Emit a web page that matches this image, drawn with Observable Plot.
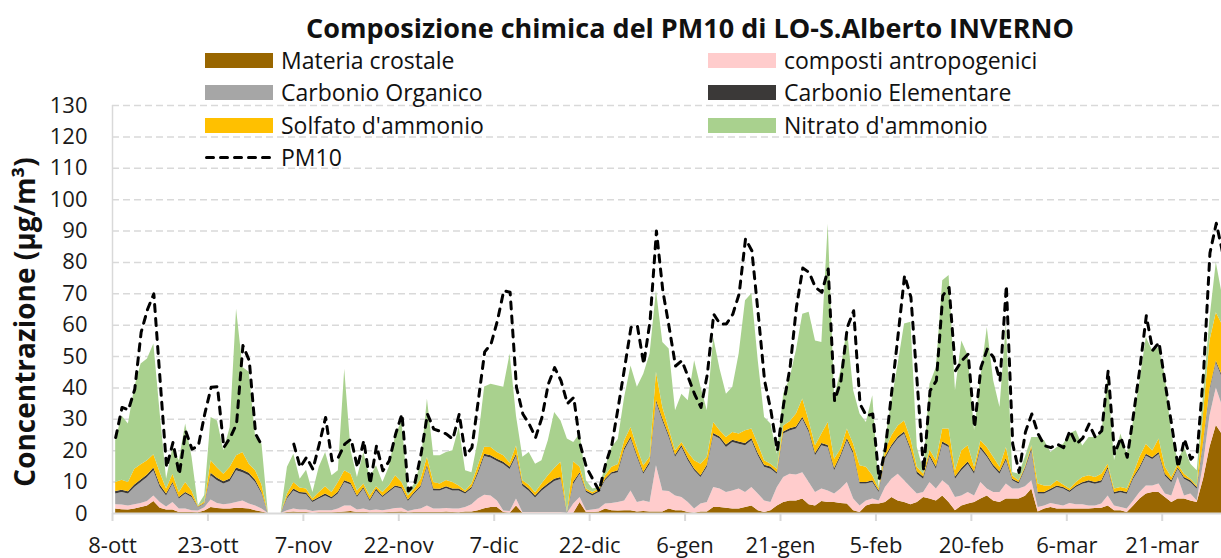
<!DOCTYPE html>
<html><head><meta charset="utf-8">
<script src="https://cdn.jsdelivr.net/npm/d3@7"></script>
<script src="https://cdn.jsdelivr.net/npm/@observablehq/plot@0.6"></script>
<style>
body{margin:0;background:#fff;font-family:"Open Sans",Lato,sans-serif;color:#111;}
#wrap{position:relative;width:1221px;height:558px;overflow:hidden;}
#chart{position:absolute;left:0;top:0;}
#title{position:absolute;left:306px;top:11px;font-weight:bold;font-size:27px;white-space:nowrap;line-height:34px;}
.lg{position:absolute;height:30px;display:flex;align-items:center;white-space:nowrap;font-size:23px;}
.sw{width:68px;height:15px;margin-right:8px;flex:none;}
#ytitle{position:absolute;left:24px;top:322px;transform:translate(-50%,-50%) rotate(-90deg);font-weight:bold;font-size:28px;white-space:nowrap;}
</style></head><body>
<div id="wrap">
<div id="chart"></div>
<div id="title">Composizione chimica del PM10 di LO-S.Alberto INVERNO</div>
<div id="legend"></div>
<div id="ytitle">Concentrazione (µg/m³)</div>
</div>
<script>
const seriesNames = ["Materia crostale","composti antropogenici","Carbonio Organico","Carbonio Elementare","Solfato d'ammonio","Nitrato d'ammonio"];
const seriesColors = ["#996600","#ffcccc","#a6a6a6","#3b3938","#ffc000","#a9d18e"];
const lineName = "PM10";
const tickLabels = ["8-ott","23-ott","7-nov","22-nov","7-dic","22-dic","6-gen","21-gen","5-feb","20-feb","6-mar","21-mar"];
const yTicks = [0,10,20,30,40,50,60,70,80,90,100,110,120,130];

const crostale = [1.4,1.2,1.1,1.4,1.9,2.4,3.8,1.7,1.1,1.1,
0.3,0.3,0.3,0.2,0.8,1.9,1.6,1.4,1.4,1.7,
1.6,1.4,0.9,0.5,0,0,0,0.3,0.5,0.3,
0.3,0.1,0.2,0.2,0.2,0.3,0.5,0.6,0.3,0.4,
0.2,0.2,0.2,0.3,0.4,0.5,0.2,0.3,0.3,0.3,
0.3,0.3,0.5,0.3,0.2,0.5,0.5,0.9,1.5,1.9,
1.9,0.3,0.1,2.4,0.1,0.1,0.1,0.1,0.1,0.1,
0.1,0,0.1,3.5,0.3,0.3,0.5,1.4,0.9,0.8,
0.9,0.9,0.5,0.6,0.5,0.5,0.5,1.4,0.9,0.9,
0.3,0.1,0.5,0.5,1.9,1.9,1.7,1.4,1.4,1.9,
2.4,0.9,0.3,0.9,2.4,3.5,4.0,4.0,4.6,2.8,
2.4,3.8,3.5,3.5,3.2,3.0,0.9,0.3,2.4,3.0,
3.0,3.5,5.1,4.0,3.5,2.8,3.5,5.1,4.6,4.0,
5.6,3.5,0.9,2.4,3.0,3.5,4.6,5.6,4.0,3.5,
4.6,4.6,4.6,5.5,7.8,0.5,1.4,1.9,1.4,1.4,
1.4,1.4,1.4,1.4,1.6,1.7,2.4,0.9,0.9,0.3,
2.4,4.6,6.2,6.7,6.7,5.1,3.5,4.6,4.6,4.0,
3.5,11,21,28,25];
const antropogenici = [1.4,1.5,1.3,1.4,1.3,1.4,1.8,1.8,1.0,2.4,
1.1,1.1,0.6,0.6,1.0,2.4,1.6,1.4,1.6,1.8,
2.4,1.6,1.5,0.9,0,0,0,0.6,0.9,0.8,
0.8,0.5,0.7,0.7,0.7,1.1,1.9,1.8,0.8,1.0,
0.7,0.9,0.7,0.9,1.2,1.2,0.4,0.8,1.1,2.1,
1.1,1.1,1.1,1.1,1.2,1.4,2.3,3.7,4.3,3.7,
2.1,0.5,0.5,2.2,0.2,0.2,0.2,0.2,0.2,0.2,
0.2,0,2.9,1.6,0.6,0.8,0.9,1.6,2.3,2.7,
3.1,6.3,3.0,3.4,3.0,14.7,6.7,5.6,4.7,4.2,
3.2,1.3,2.5,3.0,6.4,5.9,5.0,5.8,6.4,4.8,
5.9,5.3,3.7,2.6,5.9,8.0,8.5,8.3,8.4,7.1,
4.3,4.0,3.7,2.7,4.6,6.9,3.7,2.1,1.6,1.6,
1.0,4.8,5.8,8.5,6.9,5.5,2.7,1.6,5.3,3.8,
4.8,5.3,4.2,3.2,3.7,2.1,5.3,2.2,2.7,3.2,
4.8,3.2,3.2,3.0,2.6,1.4,1.0,1.3,1.4,1.0,
1.8,1.4,1.4,1.0,0.8,1.3,3.2,1.5,1.0,1.1,
1.6,2.1,2.6,2.1,2.7,1.1,2.1,6.9,1.0,2.2,
0.5,5,10,12,9];
const organico = [3.4,4.0,3.8,5.5,6.7,7.7,8.0,4.8,3.5,5.9,
3.2,4.8,4.2,1.0,1.2,7.7,7.2,6.6,7.2,10.1,
9.0,9.0,7.5,4.8,0,0,0,3.7,5.8,5.1,
4.9,2.9,3.7,4.7,3.7,4.8,7.5,6.7,4.0,6.4,
2.9,6.1,4.2,5.5,6.7,6.1,3.2,5.1,6.9,12.3,
5.8,5.8,6.4,5.8,5.8,4.3,5.0,7.9,12.4,12.1,
12.6,14.8,13.4,13.6,8.4,6.8,4.6,6.8,8.4,9.9,
10.5,0.1,6.3,7.4,5.8,4.5,5.3,7.4,9.3,9.5,
16.0,16.5,14.4,8.5,12.2,20.2,22.3,17.2,12.3,15.9,
13.3,12.2,8.5,11.2,16.5,15.9,14.3,15.4,14.3,14.9,
14.9,12.2,10.7,10.6,4.2,13.8,13.8,14.6,17.0,15.9,
11.7,13.8,13.8,7.4,10.1,13.3,14.3,7.0,5.4,5.3,
2.7,9.0,10.1,11.2,14.9,11.7,6.3,4.2,8.0,6.3,
11.7,12.2,5.8,8.0,9.0,6.9,10.6,10.1,8.0,5.8,
7.4,2.6,1.6,5.5,9.6,4.3,3.8,4.0,5.5,5.4,
3.5,5.5,6.5,7.4,6.9,6.8,8.5,3.7,4.7,4.7,
6.9,7.4,9.5,8.4,9.4,5.7,4.2,2.6,5.3,3.6,
3.7,6,8,8,9];
const elementare = [0.8,0.7,0.7,0.8,0.8,0.8,0.9,0.8,0.6,0.5,
0.5,0.5,0.5,0.2,0.2,0.8,0.8,0.7,0.8,0.9,
0.8,0.8,0.7,0.5,0,0,0,0.5,0.6,0.5,
0.5,0.5,0.5,0.6,0.5,0.6,0.5,0.5,0.5,0.5,
0.5,0.6,0.4,0.5,0.5,0.5,0.5,0.5,0.5,0.7,
0.6,0.5,0.5,0.6,0.6,0.5,0.5,0.7,0.7,0.7,
0.7,0.7,0.7,0.7,0.7,0.7,0.7,0.7,0.7,0.7,
0.7,0.1,0.7,0.5,0.5,0.5,0.5,0.5,0.5,0.6,
0.7,0.7,0.7,0.6,0.7,0.7,0.7,0.7,0.7,0.7,
0.7,0.6,0.5,0.7,0.7,0.7,0.8,0.7,0.7,0.7,
0.7,0.7,0.7,0.7,0.5,0.7,0.7,0.7,0.7,0.7,
0.7,0.7,0.7,0.7,0.7,0.7,0.7,0.5,0.5,0.5,
0.5,0.7,0.7,0.7,0.7,0.7,0.7,0.7,0.7,0.7,
0.7,0.7,0.7,0.7,0.7,0.7,0.7,0.7,0.7,0.7,
0.7,0.5,0.5,0.5,0.7,0.5,0.5,0.5,0.5,0.5,
0.5,0.5,0.5,0.6,0.6,0.6,0.6,0.6,0.6,0.6,
0.6,0.6,0.6,0.6,0.6,0.6,0.6,0.5,0.6,0.6,
0.6,0.6,0.6,0.6,0.6];
const solfato = [2.9,3.2,3.0,5.0,4.8,4.5,4.2,3.9,1.6,2.6,
1.6,3.2,1.6,0.2,0.5,4.0,3.3,2.4,3.7,3.9,
5.6,2.9,3.0,2.4,0,0,0,1.1,2.1,1.4,
1.3,0.6,1.6,2.3,1.6,3.1,3.2,2.9,1.6,1.1,
1.3,0.7,1.2,1.6,3.2,1.6,1.3,1.1,2.1,2.5,
2.1,1.7,2.0,2.1,1.0,0.5,1.1,2.0,2.2,2.6,
2.1,2.1,1.3,2.6,1.0,1.2,1.0,1.6,2.6,3.4,
4.8,0.1,6.5,1.7,0.6,0.6,0.6,1.1,1.7,2.0,
2.5,3.0,2.4,2.1,1.5,8.9,3.6,2.0,1.4,0.9,
1.9,2.6,3.7,2.5,3.5,2.0,2.4,2.5,2.5,4.1,
3.0,3.0,1.4,0.9,1.1,1.9,2.2,4.1,5.8,3.0,
2.5,3.0,7.3,3.0,1.9,3.0,2.5,5.3,4.8,1.6,
0.6,2.0,3.1,3.5,3.5,3.0,1.5,0.9,1.6,2.0,
4.1,5.2,2.0,5.7,5.2,1.5,2.0,2.4,2.5,1.5,
3.5,1.1,0.5,0.5,0.9,2.7,2.1,1.1,1.6,0.8,
0.6,1.1,1.7,1.6,1.6,2.1,1.0,1.1,1.1,1.1,
1.0,3.2,3.2,2.1,4.3,2.2,1.1,1.0,1.0,0.5,
0.5,9.4,15.4,15.4,16.4];
const nitrato = [13.3,20.5,18.6,26.1,32.1,32.4,35.3,18.7,3.1,8.5,
10.1,18.6,10.7,0.3,2.0,13.8,15.0,7.5,12.7,46.7,
27.1,29.3,10.6,13.0,0,0,0,8.5,9.0,2.8,
6.0,2.1,8.0,10.9,5.3,3.7,32.4,7.5,4.3,10.0,
5.9,6.7,3.2,5.9,12.8,19.6,1.1,1.6,4.8,18.6,
8.5,9.0,8.9,10.1,18.6,6.4,3.6,8.0,19.2,20.2,
21.3,21.8,34.8,9.5,7.5,10.4,9.1,7.4,11.2,17.9,
13.2,23.4,6.1,10.6,2.6,1.1,0.5,2.7,6.3,8.0,
13.8,19.6,19.2,29.2,32.9,26.0,20.7,25.5,12.7,15.4,
16.5,31.9,24.5,14.8,27.0,19.6,13.8,14.4,25.5,41.4,
43.1,26.6,13.8,12.8,4.8,10.1,13.8,20.2,27.0,34.6,
33.4,29.2,63.2,19.7,25.0,31.9,17.0,16.5,14.3,25.5,
0.5,3.2,11.1,19.7,30.9,37.2,6.3,1.1,21.0,29.7,
47.3,48.9,25.5,35.0,28.7,11.7,20.2,38.3,24.4,19.1,
39.4,1.1,2.1,3.0,2.6,14.8,14.4,10.6,10.6,13.0,
17.5,16.5,10.0,12.2,12.7,12.8,27.7,9.0,17.0,11.1,
17.0,24.4,34.0,31.9,29.2,28.7,13.8,1.2,8.5,4.8,
4.8,6,7,16,9];
const pm10 = [24.2,33.8,33.0,39.6,57.7,65.0,70.0,42.0,14.7,22.6,
12.5,26.3,20.5,21.6,31.7,40.2,40.4,21.0,24.2,28.5,
53.5,48.7,25.3,21.6,null,null,null,null,22.1,14.7,
17.9,14.1,22.1,30.6,16.8,17.9,22.1,23.7,14.7,23.2,
9.4,21.6,13.6,16.8,25.3,31.7,7.2,9.4,18.9,31.7,
26.9,26.2,25.3,23.7,31.7,18.4,21.0,36.0,51.5,54.0,
61.4,71.0,70.5,40.2,31.7,28.5,24.2,30.6,41.2,46.5,
42.3,35.0,37.0,22.1,14.7,10.9,7.2,15.7,22.0,34.0,
46.5,59.3,59.8,47.6,61.4,90.0,71.0,59.3,47.0,48.7,
43.4,38.0,33.8,44.4,63.5,60.4,60.4,63.5,70.0,87.5,
83.7,63.5,42.3,32.7,20.0,35.0,46.5,65.7,78.2,76.8,
72.0,70.5,77.9,35.9,42.3,59.3,64.6,34.9,31.1,31.7,
10.9,21.0,39.1,57.2,75.8,68.9,41.2,13.6,39.1,42.3,
69.4,72.0,45.5,48.7,50.8,27.4,46.5,52.4,49.7,42.3,
72.6,22.1,13.1,26.0,31.7,25.3,21.6,21.0,22.1,21.0,
26.4,22.1,24.0,28.5,24.2,26.4,45.5,18.9,24.2,17.9,
31.7,46.5,63.0,52.0,54.5,41.0,28.0,14.7,23.7,17.3,
19.5,45.0,83.0,92.5,83.0];

const layers = [crostale, antropogenici, organico, elementare, solfato, nitrato];
const table = [];
layers.forEach((arr, k) => arr.forEach((v, i) => table.push({day: i, value: v, series: seriesNames[k]})));
const pmData = pm10.map((v, i) => ({day: i, value: v}));
const tickDays = tickLabels.map((_, k) => k * 15 - 0.5);

const W = 1221, H = 558, ML = 112, MR = 0, MT = 105, MB = 45;
const pxPerDay = 6.362;
const xMax = -0.5 + (W - ML - MR) / pxPerDay;

const chart = Plot.plot({
  width: W, height: H,
  marginLeft: ML, marginRight: MR, marginTop: MT, marginBottom: MB,
  x: {domain: [-0.5, xMax], axis: null},
  y: {domain: [0, 130], axis: null},
  color: {domain: seriesNames, range: seriesColors},
  style: {fontFamily: "'Open Sans', Lato, sans-serif", background: "transparent", overflow: "visible"},
  marks: [
    Plot.gridY(yTicks.filter(d => d > 0), {stroke: "#d9d9d9", strokeOpacity: 1, strokeWidth: 1.5, strokeDasharray: "7,4"}),
    Plot.areaY(table, {x: "day", y: "value", z: "series", fill: "series", order: seriesNames, curve: "linear", clip: true}),
    Plot.ruleY([0], {stroke: "#d9d9d9", strokeWidth: 2}),
    Plot.ruleX([-0.5], {stroke: "#d9d9d9", strokeWidth: 1.5}),
    Plot.line(pmData, {x: "day", y: "value", stroke: "#000", strokeWidth: 3, strokeDasharray: "7,7", strokeLinecap: "round", clip: true}),
    Plot.axisY(yTicks, {label: null, tickSize: 0, tickPadding: 25, fontSize: 22, fill: "#1a1a1a"}),
    Plot.axisX(tickDays, {label: null, tickSize: 8, stroke: "#d9d9d9", strokeWidth: 2, tickPadding: 16, fontSize: 22, fill: "#1a1a1a",
      tickFormat: d => tickLabels[Math.round((d + 0.5) / 15)]})
  ]
});
document.getElementById("chart").appendChild(chart);

// legend
const legend = document.getElementById("legend");
const rows = [60, 92, 125, 157];
const cols = [205, 708];
seriesNames.forEach((name, k) => {
  const el = document.createElement("div");
  el.className = "lg";
  el.style.left = cols[k % 2] + "px";
  el.style.top = (rows[Math.floor(k / 2)] - 15) + "px";
  el.innerHTML = `<div class="sw" style="background:${seriesColors[k]}"></div><span></span>`;
  el.querySelector("span").textContent = name;
  legend.appendChild(el);
});
const pl = document.createElement("div");
pl.className = "lg";
pl.style.left = cols[0] + "px";
pl.style.top = (rows[3] - 15) + "px";
pl.innerHTML = `<svg width="68" height="15" style="margin-right:8px;flex:none"><line x1="1.5" y1="7.5" x2="66.5" y2="7.5" stroke="#000" stroke-width="3" stroke-dasharray="7,7" stroke-linecap="round"/></svg><span></span>`;
pl.querySelector("span").textContent = lineName;
legend.appendChild(pl);
</script>
</body></html>
